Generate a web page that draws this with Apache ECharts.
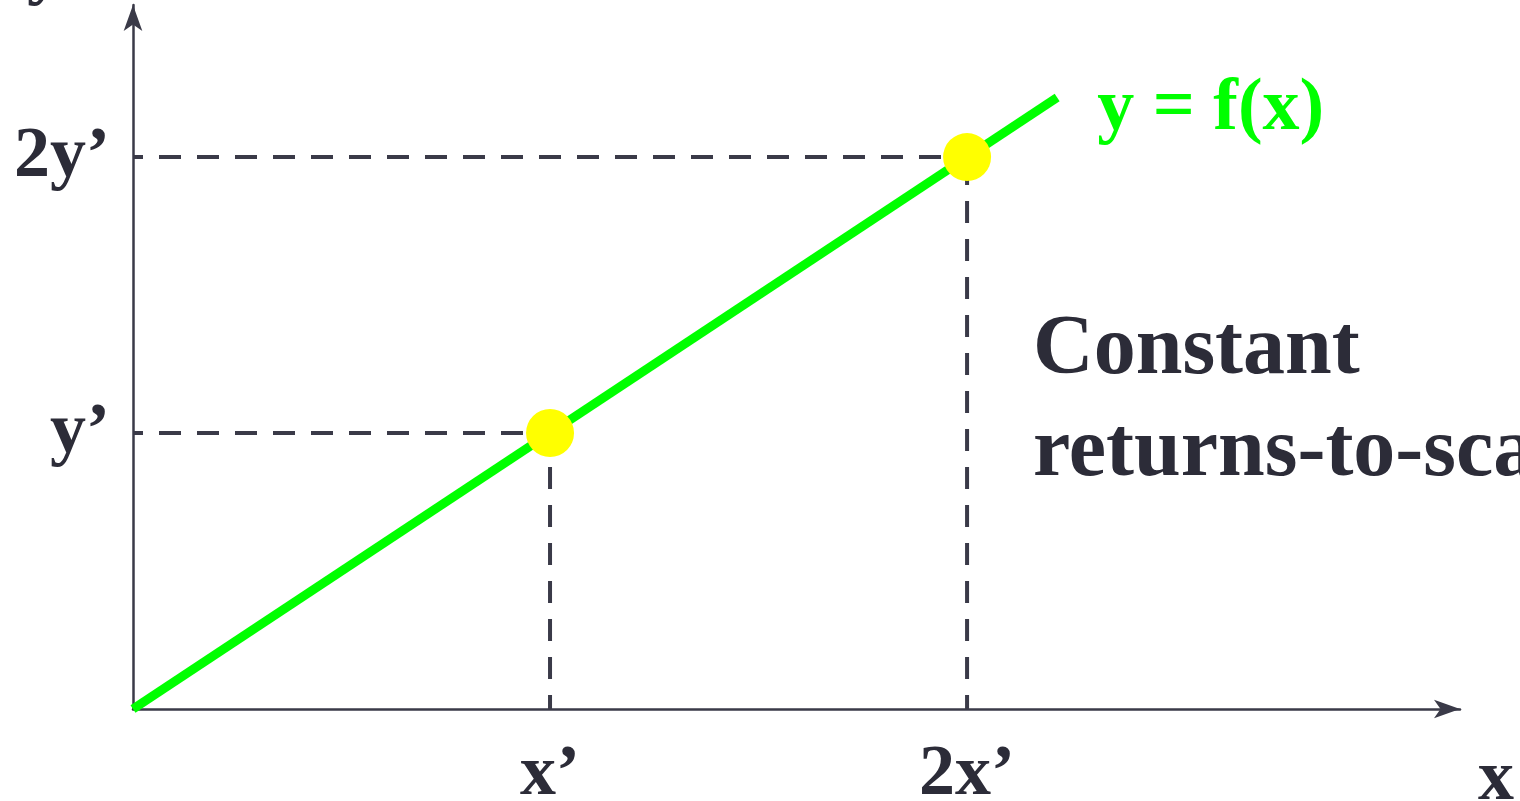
<!DOCTYPE html>
<html>
<head>
<meta charset="utf-8">
<title>Constant returns-to-scale</title>
<script src="https://cdn.jsdelivr.net/npm/echarts@6/dist/echarts.min.js"></script>
<style>
  html, body { margin: 0; padding: 0; background: #fff; }
  #chart { width: 1520px; height: 801px; }
</style>
</head>
<body>
<div id="chart"></div>
<script>
// tick positions and their labels
const xTicks = [1, 2]
const xTickLabels = ['x’', '2x’']
const yTicks = [1, 2]
const yTickLabels = ['y’', '2y’']

// production function y = f(x), straight through the origin
const fLine = [[0, 0], [2.216, 2.216]]
// the two highlighted input/output bundles
const bundles = [[1, 1], [2, 2]]

const ink = '#2c2c38'
const axisInk = '#3a3a48'
const serif = '"Liberation Serif", "DejaVu Serif", serif'

const chart = echarts.init(document.getElementById('chart'))

// dashed guide lines from each bundle to both axes
const guides = []
bundles.forEach(p => {
  guides.push({
    type: 'line',
    data: [[0, p[1]], [p[0], p[1]]],
    symbol: 'none',
    silent: true,
    lineStyle: { color: axisInk, width: 4, type: [22, 16], dashOffset: 12 },
    z: 1
  })
  guides.push({
    type: 'line',
    data: [[p[0], 0], [p[0], p[1]]],
    symbol: 'none',
    silent: true,
    lineStyle: { color: axisInk, width: 4, type: [22, 16], dashOffset: 8 },
    z: 1
  })
})

const option = {
  animation: false,
  backgroundColor: '#fff',
  grid: { left: 133, right: 60, top: 5, bottom: 92, containLabel: false, outerBoundsMode: 'none' },
  xAxis: {
    type: 'value',
    min: 0,
    max: 3.182,
    interval: 1,
    splitLine: { show: false },
    axisTick: { show: false },
    axisLine: {
      onZero: false,
      symbol: ['none', 'arrow'],
      symbolSize: [14, 26],
      lineStyle: { color: axisInk, width: 2.5 }
    },
    axisLabel: {
      margin: 30,
      color: ink,
      fontFamily: serif,
      fontWeight: 'bold',
      fontSize: 72,
      showMaxLabel: false,
      formatter: v => {
        const i = xTicks.indexOf(v)
        return i < 0 ? '' : xTickLabels[i]
      }
    }
  },
  yAxis: {
    type: 'value',
    min: 0,
    max: 2.551,
    interval: 1,
    splitLine: { show: false },
    axisTick: { show: false },
    axisLine: {
      onZero: false,
      symbol: ['none', 'arrow'],
      symbolSize: [14, 26],
      lineStyle: { color: axisInk, width: 2.5 }
    },
    axisLabel: {
      margin: 23,
      color: ink,
      fontFamily: serif,
      fontWeight: 'bold',
      fontSize: 72,
      showMaxLabel: false,
      formatter: v => {
        const i = yTicks.indexOf(v)
        return i < 0 ? '' : yTickLabels[i]
      }
    }
  },
  graphic: [
    {
      type: 'text',
      left: 1033,
      top: 300,
      style: {
        text: 'Constant\nreturns-to-scale',
        fill: ink,
        font: 'bold 84px ' + serif,
        lineHeight: 102
      }
    },
    {
      type: 'text',
      left: 1478,
      top: 744,
      style: { text: 'x', fill: ink, font: 'bold 72px ' + serif }
    },
    {
      type: 'text',
      left: 27,
      top: -64,
      style: { text: 'y', fill: ink, font: 'bold 72px ' + serif }
    }
  ],
  series: guides.concat([
    {
      name: 'f',
      type: 'line',
      data: fLine,
      symbol: 'none',
      silent: true,
      lineStyle: { color: '#00ff00', width: 9, cap: 'butt' },
      endLabel: {
        show: true,
        formatter: 'y = f(x)',
        color: '#00ff00',
        fontFamily: serif,
        fontWeight: 'bold',
        fontSize: 74,
        distance: 40,
        offset: [0, 12]
      },
      z: 3
    },
    {
      type: 'scatter',
      data: bundles,
      symbolSize: 48,
      silent: true,
      itemStyle: { color: '#ffff00', opacity: 1 },
      z: 4
    }
  ])
}

chart.setOption(option)
</script>
</body>
</html>
